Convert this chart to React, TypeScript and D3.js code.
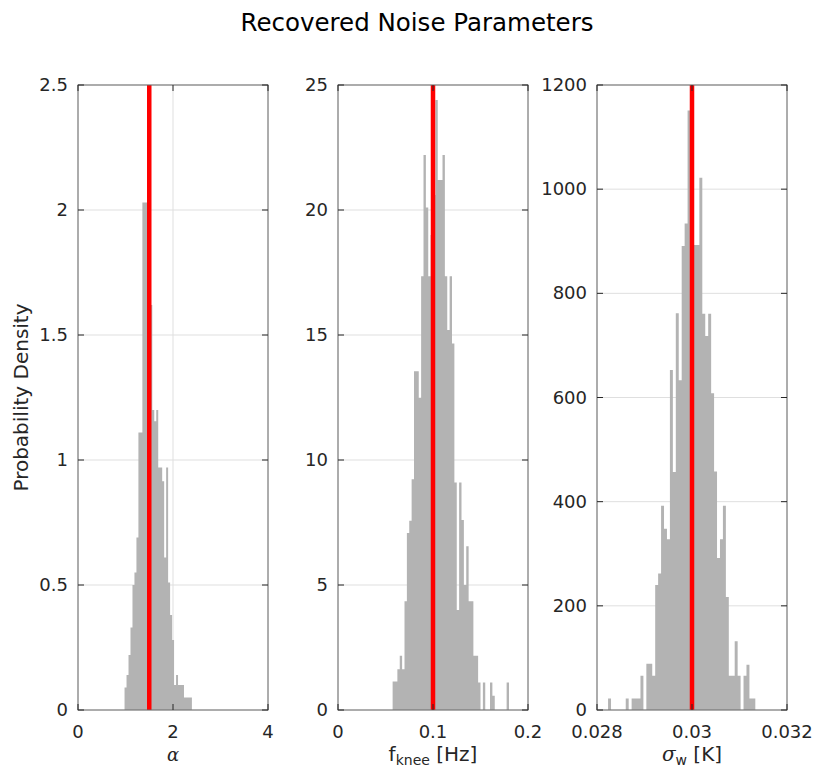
import React from "react";
import * as d3 from "d3";

// ---------- data ----------
const titleText = "Recovered Noise Parameters";
const yLabelText = "Probability Density";

// Panel 1: alpha
const alphaBinStart = 0.98;
const alphaBinWidth = 0.0417;
const alphaDensity = [0.09, 0.14, 0.22, 0.33, 0.5, 0.55, 0.69, 1.11, 1.11, 2.03, 2.03, 2.03, 1.9, 1.62, 1.2, 1.155, 1.2, 0.97, 0.97, 0.915, 0.61, 0.97, 0.51, 0.38, 0.28, 0.1, 0.14, 0.1, 0.1, 0.1, 0.05, 0.05, 0.05, 0.05];
const alphaTrue = 1.5;
const alphaXTicks = [0, 2, 4];
const alphaYTicks = [0, 0.5, 1, 1.5, 2, 2.5];

// Panel 2: f_knee
const fkneeBinStart = 0.0575;
const fkneeBinWidth = 0.0025;
const fkneeDensity = [1.14, 1.14, 1.63, 2.17, 1.63, 4.35, 7.08, 7.57, 9.23, 13.55, 13.55, 12.49, 17.35, 22.2, 20.1, 17.35, 19.0, 20.6, 24.4, 21.2, 21.2, 22.2, 17.35, 15.2, 17.35, 14.66, 9.1, 4.0, 9.1, 7.6, 5.0, 6.55, 4.35, 4.35, 2.17, 2.17, 1.1, 0, 1.1, 0, 0, 1.1, 0.57, 0, 0, 0, 0, 0, 1.1];
const fkneeTrue = 0.1;
const fkneeXTicks = [0, 0.1, 0.2];
const fkneeYTicks = [0, 5, 10, 15, 20, 25];

// Panel 3: sigma_w
const sigmaBinStart = 0.028233;
const sigmaBinWidth = 0.000062;
const sigmaDensity = [22, 0, 0, 0, 0, 0, 22, 0, 22, 22, 22, 66, 0, 89, 89, 66, 240, 262, 392, 348, 328, 653, 457, 762, 633, 891, 934, 1151, 1100, 893, 893, 1022, 761, 718, 761, 608, 458, 292, 328, 392, 217, 66, 66, 132, 66, 0, 66, 87, 22, 22];
const sigmaTrue = 0.03;
const sigmaXTicks = [0.028, 0.03, 0.032];
const sigmaYTicks = [0, 200, 400, 600, 800, 1000, 1200];

type Panel = {
  start: number;
  width: number;
  values: number[];
  truth: number;
  xDomain: [number, number];
  yDomain: [number, number];
  xTicks: number[];
  yTicks: number[];
  xFmt: (v: number) => string;
  label: "alpha" | "fknee" | "sigma";
};

const panels: Panel[] = [
  { start: alphaBinStart, width: alphaBinWidth, values: alphaDensity, truth: alphaTrue, xDomain: [0, 4], yDomain: [0, 2.5], xTicks: alphaXTicks, yTicks: alphaYTicks, xFmt: (v) => String(v), label: "alpha" },
  { start: fkneeBinStart, width: fkneeBinWidth, values: fkneeDensity, truth: fkneeTrue, xDomain: [0, 0.2], yDomain: [0, 25], xTicks: fkneeXTicks, yTicks: fkneeYTicks, xFmt: (v) => String(v), label: "fknee" },
  { start: sigmaBinStart, width: sigmaBinWidth, values: sigmaDensity, truth: sigmaTrue, xDomain: [0.028, 0.032], yDomain: [0, 1200], xTicks: sigmaXTicks, yTicks: sigmaYTicks, xFmt: (v) => String(+v.toFixed(3)), label: "sigma" },
];

// ---------- layout ----------
const W = 814;
const H = 772;
const panelLefts = [78, 338, 597];
const panelW = 190;
const top = 85;
const bottom = 710;
const tickLen = 6;
const font = "'DejaVu Sans', sans-serif";
const textColor = "#262626";
const tickFont = 18;
const xTickY = 738;
const xLabelY = 761;

function PanelView({ p, left }: { p: Panel; left: number }) {
  const x = d3.scaleLinear().domain(p.xDomain).range([left, left + panelW]);
  const y = d3.scaleLinear().domain(p.yDomain).range([bottom, top]);
  const pts: [number, number][] = p.values.map((v, i) => [p.start + i * p.width, v]);
  pts.push([p.start + p.values.length * p.width, 0]);
  const area = d3
    .area<[number, number]>()
    .x((d) => x(d[0]))
    .y0(y(0))
    .y1((d) => y(d[1]))
    .curve(d3.curveStepAfter);
  const cx = left + panelW / 2;
  return (
    <g>
      {/* grid */}
      {p.yTicks.map((t) => (
        <line key={"gy" + t} x1={left} x2={left + panelW} y1={y(t)} y2={y(t)} stroke="#dfdfdf" strokeWidth={1} />
      ))}
      {p.xTicks.map((t) => (
        <line key={"gx" + t} x1={x(t)} x2={x(t)} y1={top} y2={bottom} stroke="#dfdfdf" strokeWidth={1} />
      ))}
      {/* histogram */}
      <path d={area(pts) || ""} fill="#b3b3b3" stroke="none" />
      {/* truth line */}
      <line x1={x(p.truth)} x2={x(p.truth)} y1={y(p.yDomain[0])} y2={y(p.yDomain[1])} stroke="#ff0000" strokeWidth={4.5} />
      {/* box */}
      <rect x={left} y={top} width={panelW} height={bottom - top} fill="none" stroke="#6a6a6a" strokeWidth={1} />
      {/* ticks */}
      {p.yTicks.map((t) => (
        <g key={"ty" + t}>
          <line x1={left} x2={left + tickLen} y1={y(t)} y2={y(t)} stroke={textColor} strokeWidth={1} />
          <line x1={left + panelW - tickLen} x2={left + panelW} y1={y(t)} y2={y(t)} stroke={textColor} strokeWidth={1} />
          <text x={left - 10} y={y(t)} dy="0.34em" textAnchor="end" fontFamily={font} fontSize={tickFont} fill={textColor}>
            {String(t)}
          </text>
        </g>
      ))}
      {p.xTicks.map((t) => (
        <g key={"tx" + t}>
          <line x1={x(t)} x2={x(t)} y1={bottom} y2={bottom - tickLen} stroke={textColor} strokeWidth={1} />
          <line x1={x(t)} x2={x(t)} y1={top} y2={top + tickLen} stroke={textColor} strokeWidth={1} />
          <text x={x(t)} y={xTickY} textAnchor="middle" fontFamily={font} fontSize={tickFont} fill={textColor}>
            {p.xFmt(t)}
          </text>
        </g>
      ))}
      {/* x label */}
      {p.label === "alpha" && (
        <text x={cx} y={xLabelY} textAnchor="middle" fontFamily="'DejaVu Serif', serif" fontStyle="italic" fontSize={18} fill={textColor}>
          α
        </text>
      )}
      {p.label === "fknee" && (
        <text x={cx} y={xLabelY} textAnchor="middle" fontFamily={font} fontSize={20} fill={textColor}>
          f
          <tspan fontSize={14} dy={4}>knee</tspan>
          <tspan dy={-4}> [Hz]</tspan>
        </text>
      )}
      {p.label === "sigma" && (
        <text x={cx} y={xLabelY} textAnchor="middle" fontFamily={font} fontSize={20} fill={textColor}>
          <tspan fontFamily="'DejaVu Serif', serif" fontStyle="italic">σ</tspan>
          <tspan fontSize={14} dy={4}>w</tspan>
          <tspan dy={-4}> [K]</tspan>
        </text>
      )}
    </g>
  );
}

export default function App() {
  return (
    <svg width={W} height={H} style={{ position: "absolute", left: 0, top: 0, background: "#ffffff" }}>
      <rect x={0} y={0} width={W} height={H} fill="#ffffff" />
      <text x={417} y={31} textAnchor="middle" fontFamily={font} fontSize={24.5} fill="#000000">
        {titleText}
      </text>
      <text transform={`translate(28, ${(top + bottom) / 2}) rotate(-90)`} textAnchor="middle" fontFamily={font} fontSize={20} fill={textColor}>
        {yLabelText}
      </text>
      {panels.map((p, i) => (
        <PanelView key={i} p={p} left={panelLefts[i]} />
      ))}
    </svg>
  );
}
